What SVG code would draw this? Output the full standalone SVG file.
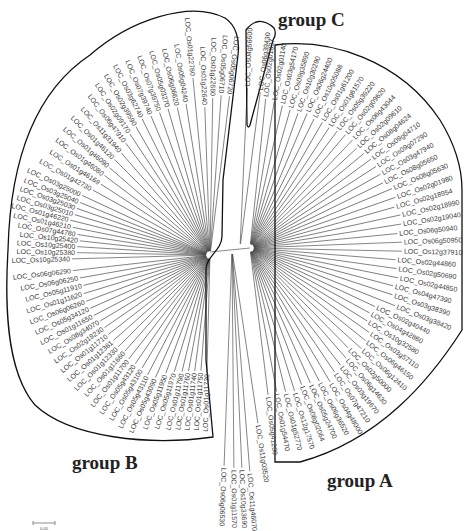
<svg xmlns="http://www.w3.org/2000/svg" width="464" height="531" viewBox="0 0 464 531">
<style>
.t{font-family:"Liberation Sans",Arial,sans-serif;font-size:7px;fill:#3a3a3a}
.e{text-anchor:end}
.c line{stroke:#4a4a4a;stroke-width:0.65}
.o{fill:none;stroke:#111;stroke-width:1.3}
.g{font-family:"Liberation Serif","Times New Roman",serif;font-weight:bold;font-size:19px;fill:#222}
</style>
<rect width="464" height="531" fill="#fff"/>
<g id="connectors" class="c">
<g id="cB">
<line transform="rotate(-88.5 210 255)" x1="206" y1="255" x2="93" y2="255"/>
<line transform="rotate(-85.5 210 255)" x1="206" y1="255" x2="94" y2="255"/>
<line transform="rotate(-82.5 210 255)" x1="206" y1="255" x2="93" y2="255"/>
<line transform="rotate(-79.5 210 255)" x1="206" y1="255" x2="92" y2="255"/>
<line transform="rotate(-76.5 210 255)" x1="206" y1="255" x2="90" y2="255"/>
<line transform="rotate(-73 210 255)" x1="206" y1="255" x2="88" y2="255"/>
<line transform="rotate(-69.5 210 255)" x1="206" y1="255" x2="84" y2="255"/>
<line transform="rotate(-66 210 255)" x1="206" y1="255" x2="76" y2="255"/>
<line transform="rotate(-62.5 210 255)" x1="206" y1="255" x2="75" y2="255"/>
<line transform="rotate(-59 210 255)" x1="206" y1="255" x2="78" y2="255"/>
<line transform="rotate(-55.5 210 255)" x1="206" y1="255" x2="78" y2="255"/>
<line transform="rotate(-52 210 255)" x1="206" y1="255" x2="78" y2="255"/>
<line transform="rotate(-48.5 210 255)" x1="206" y1="255" x2="82" y2="255"/>
<line transform="rotate(-45 210 255)" x1="206" y1="255" x2="80" y2="255"/>
<line transform="rotate(-41.5 210 255)" x1="206" y1="255" x2="81" y2="255"/>
<line transform="rotate(-38 210 255)" x1="206" y1="255" x2="81" y2="255"/>
<line transform="rotate(-34.5 210 255)" x1="206" y1="255" x2="82" y2="255"/>
<line transform="rotate(-31 210 255)" x1="206" y1="255" x2="82" y2="255"/>
<line transform="rotate(-27.5 210 255)" x1="206" y1="255" x2="79" y2="255"/>
<line transform="rotate(-24 210 255)" x1="206" y1="255" x2="79" y2="255"/>
<line transform="rotate(-20.5 210 255)" x1="206" y1="255" x2="78" y2="255"/>
<line transform="rotate(-17 210 255)" x1="206" y1="255" x2="78" y2="255"/>
<line transform="rotate(-13.5 210 255)" x1="206" y1="255" x2="80" y2="255"/>
<line transform="rotate(-10 210 255)" x1="206" y1="255" x2="78" y2="255"/>
<line transform="rotate(-6.5 210 255)" x1="206" y1="255" x2="72" y2="255"/>
<line transform="rotate(-1.6 210 255)" x1="206" y1="255" x2="72" y2="255"/>
<line transform="rotate(1 210 255)" x1="206" y1="255" x2="77" y2="255"/>
<line transform="rotate(3.6 210 255)" x1="206" y1="255" x2="77" y2="255"/>
<line transform="rotate(6.2 210 255)" x1="206" y1="255" x2="79" y2="255"/>
<line transform="rotate(8.8 210 255)" x1="206" y1="255" x2="76" y2="255"/>
<line transform="rotate(11.4 210 255)" x1="206" y1="255" x2="70" y2="255"/>
<line transform="rotate(14 210 255)" x1="206" y1="255" x2="66" y2="255"/>
<line transform="rotate(16.6 210 255)" x1="206" y1="255" x2="69" y2="255"/>
<line transform="rotate(19.3 210 255)" x1="206" y1="255" x2="69" y2="255"/>
<line transform="rotate(22 210 255)" x1="206" y1="255" x2="70" y2="255"/>
<line transform="rotate(25 210 255)" x1="206" y1="255" x2="69" y2="255"/>
<line transform="rotate(29 210 255)" x1="206" y1="255" x2="76" y2="255"/>
<line transform="rotate(33 210 255)" x1="206" y1="255" x2="80" y2="255"/>
<line transform="rotate(37 210 255)" x1="206" y1="255" x2="78" y2="255"/>
<line transform="rotate(41 210 255)" x1="206" y1="255" x2="77" y2="255"/>
<line transform="rotate(45 210 255)" x1="206" y1="255" x2="75" y2="255"/>
<line transform="rotate(49 210 255)" x1="206" y1="255" x2="75" y2="255"/>
<line transform="rotate(53 210 255)" x1="206" y1="255" x2="70" y2="255"/>
<line transform="rotate(56.5 210 255)" x1="206" y1="255" x2="65" y2="255"/>
<line transform="rotate(60 210 255)" x1="206" y1="255" x2="62" y2="255"/>
<line transform="rotate(63.5 210 255)" x1="206" y1="255" x2="58" y2="255"/>
<line transform="rotate(67 210 255)" x1="206" y1="255" x2="59" y2="255"/>
<line transform="rotate(70.5 210 255)" x1="206" y1="255" x2="59" y2="255"/>
<line transform="rotate(74 210 255)" x1="206" y1="255" x2="58" y2="255"/>
<line transform="rotate(77.5 210 255)" x1="206" y1="255" x2="59" y2="255"/>
<line transform="rotate(81 210 255)" x1="206" y1="255" x2="57" y2="255"/>
<line transform="rotate(84.5 210 255)" x1="206" y1="255" x2="32" y2="255"/>
<line transform="rotate(88 210 255)" x1="206" y1="255" x2="62" y2="255"/>
<line transform="rotate(91 210 255)" x1="206" y1="255" x2="53" y2="255"/>
<line transform="rotate(94 210 255)" x1="206" y1="255" x2="50" y2="255"/>
<line transform="rotate(97 210 255)" x1="206" y1="255" x2="50" y2="255"/>
</g>
<g id="cA">
<line transform="rotate(-84 250 248)" x1="254" y1="248" x2="400" y2="248"/>
<line transform="rotate(-80.6 250 248)" x1="254" y1="248" x2="398" y2="248"/>
<line transform="rotate(-77.2 250 248)" x1="254" y1="248" x2="396" y2="248"/>
<line transform="rotate(-73.8 250 248)" x1="254" y1="248" x2="394" y2="248"/>
<line transform="rotate(-70.4 250 248)" x1="254" y1="248" x2="393" y2="248"/>
<line transform="rotate(-67 250 248)" x1="254" y1="248" x2="396" y2="248"/>
<line transform="rotate(-63.6 250 248)" x1="254" y1="248" x2="394" y2="248"/>
<line transform="rotate(-60.1 250 248)" x1="254" y1="248" x2="395" y2="248"/>
<line transform="rotate(-56.7 250 248)" x1="254" y1="248" x2="394" y2="248"/>
<line transform="rotate(-53.3 250 248)" x1="254" y1="248" x2="396" y2="248"/>
<line transform="rotate(-49.9 250 248)" x1="254" y1="248" x2="398" y2="248"/>
<line transform="rotate(-46.5 250 248)" x1="254" y1="248" x2="399" y2="248"/>
<line transform="rotate(-43.1 250 248)" x1="254" y1="248" x2="396" y2="248"/>
<line transform="rotate(-39.7 250 248)" x1="254" y1="248" x2="398" y2="248"/>
<line transform="rotate(-36.3 250 248)" x1="254" y1="248" x2="400" y2="248"/>
<line transform="rotate(-32.9 250 248)" x1="254" y1="248" x2="400" y2="248"/>
<line transform="rotate(-29.5 250 248)" x1="254" y1="248" x2="400" y2="248"/>
<line transform="rotate(-26.1 250 248)" x1="254" y1="248" x2="398" y2="248"/>
<line transform="rotate(-22.7 250 248)" x1="254" y1="248" x2="404" y2="248"/>
<line transform="rotate(-19.2 250 248)" x1="254" y1="248" x2="404" y2="248"/>
<line transform="rotate(-15.8 250 248)" x1="254" y1="248" x2="400" y2="248"/>
<line transform="rotate(-12.4 250 248)" x1="254" y1="248" x2="404" y2="248"/>
<line transform="rotate(-9 250 248)" x1="254" y1="248" x2="403" y2="248"/>
<line transform="rotate(-5.6 250 248)" x1="254" y1="248" x2="398" y2="248"/>
<line transform="rotate(-2.2 250 248)" x1="254" y1="248" x2="402" y2="248"/>
<line transform="rotate(1.2 250 248)" x1="254" y1="248" x2="402" y2="248"/>
<line transform="rotate(4.6 250 248)" x1="254" y1="248" x2="396" y2="248"/>
<line transform="rotate(8 250 248)" x1="254" y1="248" x2="398" y2="248"/>
<line transform="rotate(11.4 250 248)" x1="254" y1="248" x2="401" y2="248"/>
<line transform="rotate(14.8 250 248)" x1="254" y1="248" x2="398" y2="248"/>
<line transform="rotate(18.2 250 248)" x1="254" y1="248" x2="400" y2="248"/>
<line transform="rotate(21.7 250 248)" x1="254" y1="248" x2="406" y2="248"/>
<line transform="rotate(25.1 250 248)" x1="254" y1="248" x2="388" y2="248"/>
<line transform="rotate(28.5 250 248)" x1="254" y1="248" x2="386" y2="248"/>
<line transform="rotate(31.9 250 248)" x1="254" y1="248" x2="388" y2="248"/>
<line transform="rotate(35.3 250 248)" x1="254" y1="248" x2="396" y2="248"/>
<line transform="rotate(38.7 250 248)" x1="254" y1="248" x2="398" y2="248"/>
<line transform="rotate(42.1 250 248)" x1="254" y1="248" x2="400" y2="248"/>
<line transform="rotate(45.5 250 248)" x1="254" y1="248" x2="390" y2="248"/>
<line transform="rotate(48.9 250 248)" x1="254" y1="248" x2="396" y2="248"/>
<line transform="rotate(52.3 250 248)" x1="254" y1="248" x2="398" y2="248"/>
<line transform="rotate(55.7 250 248)" x1="254" y1="248" x2="400" y2="248"/>
<line transform="rotate(59.1 250 248)" x1="254" y1="248" x2="406" y2="248"/>
<line transform="rotate(62.5 250 248)" x1="254" y1="248" x2="400" y2="248"/>
<line transform="rotate(65.9 250 248)" x1="254" y1="248" x2="398" y2="248"/>
<line transform="rotate(69.3 250 248)" x1="254" y1="248" x2="396" y2="248"/>
<line transform="rotate(72.7 250 248)" x1="254" y1="248" x2="400" y2="248"/>
<line transform="rotate(76.1 250 248)" x1="254" y1="248" x2="398" y2="248"/>
<line transform="rotate(79.5 250 248)" x1="254" y1="248" x2="396" y2="248"/>
<line transform="rotate(83 250 248)" x1="254" y1="248" x2="398" y2="248"/>
</g>
<g id="cC">
<line transform="rotate(-87.4 240 248)" x1="244" y1="248" x2="400" y2="248"/>
<line transform="rotate(-82.6 240 248)" x1="244" y1="248" x2="397" y2="248"/>
</g>
<g id="cO">
<line transform="rotate(81.5 232 250)" x1="236" y1="250" x2="407" y2="250"/>
<line transform="rotate(85.4 232 250)" x1="236" y1="250" x2="454" y2="250"/>
<line transform="rotate(87.4 232 250)" x1="236" y1="250" x2="450" y2="250"/>
<line transform="rotate(89.5 232 250)" x1="236" y1="250" x2="450" y2="250"/>
<line transform="rotate(92.1 232 250)" x1="236" y1="250" x2="448" y2="250"/>
</g>
<line x1="210" y1="252" x2="250" y2="248" stroke="#333" stroke-width="0.9"/>
</g>
<g id="groupB">
<path class="o" d="M213 437 C150 446 70 438 35 405 C5 370 5 300 8 250 C10 170 30 95 90 55 C130 20 190 0 225 18 C236 25 240 40 238 55 L223 180 L222 236 C222 250 207 256 206 268 L206 360 Z"/>
<g id="nB1" transform="rotate(-88.5 210 255)"><text class="t e" x="91" y="257.4">LOC_Os01g11730</text></g>
<g id="nB2" transform="rotate(-85.5 210 255)"><text class="t e" x="92" y="257.4">LOC_Os01g11750</text></g>
<g id="nB3" transform="rotate(-82.5 210 255)"><text class="t e" x="91" y="257.4">LOC_Os01g11740</text></g>
<g id="nB4" transform="rotate(-79.5 210 255)"><text class="t e" x="90" y="257.4">LOC_Os01g11760</text></g>
<g id="nB5" transform="rotate(-76.5 210 255)"><text class="t e" x="88" y="257.4">LOC_Os01g11790</text></g>
<g id="nB6" transform="rotate(-73 210 255)"><text class="t e" x="86" y="257.4">LOC_Os05g11970</text></g>
<g id="nB7" transform="rotate(-69.5 210 255)"><text class="t e" x="82" y="257.4">LOC_Os05g11950</text></g>
<g id="nB8" transform="rotate(-66 210 255)"><text class="t e" x="74" y="257.4">LOC_Os05g43090</text></g>
<g id="nB9" transform="rotate(-62.5 210 255)"><text class="t e" x="73" y="257.4">LOC_Os05g43110</text></g>
<g id="nB10" transform="rotate(-59 210 255)"><text class="t e" x="76" y="257.4">LOC_Os05g43100</text></g>
<g id="nB11" transform="rotate(-55.5 210 255)"><text class="t e" x="76" y="257.4">LOC_Os05g43120</text></g>
<g id="nB12" transform="rotate(-52 210 255)"><text class="t e" x="76" y="257.4">LOC_Os01g11700</text></g>
<g id="nB13" transform="rotate(-48.5 210 255)"><text class="t e" x="80" y="257.4">LOC_Os01g11660</text></g>
<g id="nB14" transform="rotate(-45 210 255)"><text class="t e" x="78" y="257.4">LOC_Os01g12330</text></g>
<g id="nB15" transform="rotate(-41.5 210 255)"><text class="t e" x="79" y="257.4">LOC_Os01g12361</text></g>
<g id="nB16" transform="rotate(-38 210 255)"><text class="t e" x="79" y="257.4">LOC_Os01g11710</text></g>
<g id="nB17" transform="rotate(-34.5 210 255)"><text class="t e" x="80" y="257.4">LOC_Os02g19230</text></g>
<g id="nB18" transform="rotate(-31 210 255)"><text class="t e" x="80" y="257.4">LOC_Os08g34070</text></g>
<g id="nB19" transform="rotate(-27.5 210 255)"><text class="t e" x="77" y="257.4">LOC_Os01g11650</text></g>
<g id="nB20" transform="rotate(-24 210 255)"><text class="t e" x="77" y="257.4">LOC_Os05g34120</text></g>
<g id="nB21" transform="rotate(-20.5 210 255)"><text class="t e" x="76" y="257.4">LOC_Os06g06260</text></g>
<g id="nB22" transform="rotate(-17 210 255)"><text class="t e" x="76" y="257.4">LOC_Os01g11620</text></g>
<g id="nB23" transform="rotate(-13.5 210 255)"><text class="t e" x="78" y="257.4">LOC_Os05g11910</text></g>
<g id="nB24" transform="rotate(-10 210 255)"><text class="t e" x="76" y="257.4">LOC_Os06g06250</text></g>
<g id="nB25" transform="rotate(-6.5 210 255)"><text class="t e" x="70" y="257.4">LOC_Os06g06290</text></g>
<g id="nB26" transform="rotate(-1.6 210 255)"><text class="t e" x="70" y="257.4">LOC_Os10g25340</text></g>
<g id="nB27" transform="rotate(1 210 255)"><text class="t e" x="75" y="257.4">LOC_Os10g25380</text></g>
<g id="nB28" transform="rotate(3.6 210 255)"><text class="t e" x="75" y="257.4">LOC_Os10g25400</text></g>
<g id="nB29" transform="rotate(6.2 210 255)"><text class="t e" x="77" y="257.4">LOC_Os10g25420</text></g>
<g id="nB30" transform="rotate(8.8 210 255)"><text class="t e" x="74" y="257.4">LOC_Os07g44780</text></g>
<g id="nB31" transform="rotate(11.4 210 255)"><text class="t e" x="68" y="257.4">LOC_Os01g46210</text></g>
<g id="nB32" transform="rotate(14 210 255)"><text class="t e" x="64" y="257.4">LOC_Os01g46220</text></g>
<g id="nB33" transform="rotate(16.6 210 255)"><text class="t e" x="67" y="257.4">LOC_Os03g25010</text></g>
<g id="nB34" transform="rotate(19.3 210 255)"><text class="t e" x="67" y="257.4">LOC_Os03g25030</text></g>
<g id="nB35" transform="rotate(22 210 255)"><text class="t e" x="68" y="257.4">LOC_Os03g25040</text></g>
<g id="nB36" transform="rotate(25 210 255)"><text class="t e" x="67" y="257.4">LOC_Os03g25000</text></g>
<g id="nB37" transform="rotate(29 210 255)"><text class="t e" x="74" y="257.4">LOC_Os01g42730</text></g>
<g id="nB38" transform="rotate(33 210 255)"><text class="t e" x="78" y="257.4">LOC_Os01g46169</text></g>
<g id="nB39" transform="rotate(37 210 255)"><text class="t e" x="76" y="257.4">LOC_Os01g46080</text></g>
<g id="nB40" transform="rotate(41 210 255)"><text class="t e" x="75" y="257.4">LOC_Os01g46090</text></g>
<g id="nB41" transform="rotate(45 210 255)"><text class="t e" x="73" y="257.4">LOC_Os01g46120</text></g>
<g id="nB42" transform="rotate(49 210 255)"><text class="t e" x="73" y="257.4">LOC_Os11g31940</text></g>
<g id="nB43" transform="rotate(53 210 255)"><text class="t e" x="68" y="257.4">LOC_Os06g47910</text></g>
<g id="nB44" transform="rotate(56.5 210 255)"><text class="t e" x="63" y="257.4">LOC_Os02g09170</text></g>
<g id="nB45" transform="rotate(60 210 255)"><text class="t e" x="60" y="257.4">LOC_Os02g39590</text></g>
<g id="nB46" transform="rotate(63.5 210 255)"><text class="t e" x="56" y="257.4">LOC_Os03g62740</text></g>
<g id="nB47" transform="rotate(67 210 255)"><text class="t e" x="57" y="257.4">LOC_Os07g39740</text></g>
<g id="nB48" transform="rotate(70.5 210 255)"><text class="t e" x="57" y="257.4">LOC_Os07g39750</text></g>
<g id="nB49" transform="rotate(74 210 255)"><text class="t e" x="56" y="257.4">LOC_Os05g03270</text></g>
<g id="nB50" transform="rotate(77.5 210 255)"><text class="t e" x="57" y="257.4">LOC_Os06g06620</text></g>
<g id="nB51" transform="rotate(81 210 255)"><text class="t e" x="55" y="257.4">LOC_Os05g04240</text></g>
<g id="nB52" transform="rotate(84.5 210 255)"><text class="t e" x="30" y="257.4">LOC_Os01g22780</text></g>
<g id="nB53" transform="rotate(88 210 255)"><text class="t e" x="60" y="257.4">LOC_Os01g22640</text></g>
<g id="nB54" transform="rotate(91 210 255)"><text class="t e" x="51" y="257.4">LOC_Os01g22660</text></g>
<g id="nB55" transform="rotate(94 210 255)"><text class="t e" x="48" y="257.4">LOC_Os05g06710</text></g>
<g id="nB56" transform="rotate(97 210 255)"><text class="t e" x="48" y="257.4">LOC_Os05g06720</text></g>
</g>
<g id="groupC">
<path class="o" d="M247 125 L246 30 Q258 14 274 28 Q277 34 273 40 L250 125 Q248.5 129 247 125 Z"/>
<g id="nC1" transform="rotate(-87.4 240 248)"><text class="t" x="402" y="250.4">LOC_Os04g56600</text></g>
<g id="nC2" transform="rotate(-82.6 240 248)"><text class="t" x="399" y="250.4">LOC_Os06g39430</text></g>
</g>
<g id="groupA">
<path class="o" d="M275 45 C330 38 400 60 440 120 C456 146 462 170 462 190 L462 330 C430 380 380 440 300 462 L275 462 Z"/>
<g id="nA1" transform="rotate(-84 250 248)"><text class="t" x="402" y="250.4">LOC_Os02g01837</text></g>
<g id="nA2" transform="rotate(-80.6 250 248)"><text class="t" x="400" y="250.4">LOC_Os02g01140</text></g>
<g id="nA3" transform="rotate(-77.2 250 248)"><text class="t" x="398" y="250.4">LOC_Os03g54170</text></g>
<g id="nA4" transform="rotate(-73.8 250 248)"><text class="t" x="396" y="250.4">LOC_Os09g35890</text></g>
<g id="nA5" transform="rotate(-70.4 250 248)"><text class="t" x="395" y="250.4">LOC_Os10g30290</text></g>
<g id="nA6" transform="rotate(-67 250 248)"><text class="t" x="398" y="250.4">LOC_Os06g24400</text></g>
<g id="nA7" transform="rotate(-63.6 250 248)"><text class="t" x="396" y="250.4">LOC_Os10g05088</text></g>
<g id="nA8" transform="rotate(-60.1 250 248)"><text class="t" x="397" y="250.4">LOC_Os01g61200</text></g>
<g id="nA9" transform="rotate(-56.7 250 248)"><text class="t" x="396" y="250.4">LOC_Os01g61570</text></g>
<g id="nA10" transform="rotate(-53.3 250 248)"><text class="t" x="398" y="250.4">LOC_Os05g39220</text></g>
<g id="nA11" transform="rotate(-49.9 250 248)"><text class="t" x="400" y="250.4">LOC_Os02g09620</text></g>
<g id="nA12" transform="rotate(-46.5 250 248)"><text class="t" x="401" y="250.4">LOC_Os06g43044</text></g>
<g id="nA13" transform="rotate(-43.1 250 248)"><text class="t" x="398" y="250.4">LOC_Os02g09610</text></g>
<g id="nA14" transform="rotate(-39.7 250 248)"><text class="t" x="400" y="250.4">LOC_Os08g04624</text></g>
<g id="nA15" transform="rotate(-36.3 250 248)"><text class="t" x="402" y="250.4">LOC_Os09g04710</text></g>
<g id="nA16" transform="rotate(-32.9 250 248)"><text class="t" x="402" y="250.4">LOC_Os09g07290</text></g>
<g id="nA17" transform="rotate(-29.5 250 248)"><text class="t" x="402" y="250.4">LOC_Os03g47940</text></g>
<g id="nA18" transform="rotate(-26.1 250 248)"><text class="t" x="400" y="250.4">LOC_Os08g05650</text></g>
<g id="nA19" transform="rotate(-22.7 250 248)"><text class="t" x="406" y="250.4">LOC_Os08g05630</text></g>
<g id="nA20" transform="rotate(-19.2 250 248)"><text class="t" x="406" y="250.4">LOC_Os02g01980</text></g>
<g id="nA21" transform="rotate(-15.8 250 248)"><text class="t" x="402" y="250.4">LOC_Os02g18954</text></g>
<g id="nA22" transform="rotate(-12.4 250 248)"><text class="t" x="406" y="250.4">LOC_Os02g18990</text></g>
<g id="nA23" transform="rotate(-9 250 248)"><text class="t" x="405" y="250.4">LOC_Os02g19040</text></g>
<g id="nA24" transform="rotate(-5.6 250 248)"><text class="t" x="400" y="250.4">LOC_Os06g50940</text></g>
<g id="nA25" transform="rotate(-2.2 250 248)"><text class="t" x="404" y="250.4">LOC_Os06g50950</text></g>
<g id="nA26" transform="rotate(1.2 250 248)"><text class="t" x="404" y="250.4">LOC_Os12g37910</text></g>
<g id="nA27" transform="rotate(4.6 250 248)"><text class="t" x="398" y="250.4">LOC_Os02g44860</text></g>
<g id="nA28" transform="rotate(8 250 248)"><text class="t" x="400" y="250.4">LOC_Os02g50690</text></g>
<g id="nA29" transform="rotate(11.4 250 248)"><text class="t" x="403" y="250.4">LOC_Os02g44850</text></g>
<g id="nA30" transform="rotate(14.8 250 248)"><text class="t" x="400" y="250.4">LOC_Os04g47390</text></g>
<g id="nA31" transform="rotate(18.2 250 248)"><text class="t" x="402" y="250.4">LOC_Os03g38390</text></g>
<g id="nA32" transform="rotate(21.7 250 248)"><text class="t" x="408" y="250.4">LOC_Os03g38420</text></g>
<g id="nA33" transform="rotate(25.1 250 248)"><text class="t" x="390" y="250.4">LOC_Os02g40440</text></g>
<g id="nA34" transform="rotate(28.5 250 248)"><text class="t" x="388" y="250.4">LOC_Os04g42860</text></g>
<g id="nA35" transform="rotate(31.9 250 248)"><text class="t" x="390" y="250.4">LOC_Os10g32580</text></g>
<g id="nA36" transform="rotate(35.3 250 248)"><text class="t" x="398" y="250.4">LOC_Os03g57110</text></g>
<g id="nA37" transform="rotate(38.7 250 248)"><text class="t" x="400" y="250.4">LOC_Os06g46150</text></g>
<g id="nA38" transform="rotate(42.1 250 248)"><text class="t" x="402" y="250.4">LOC_Os06g12410</text></g>
<g id="nA39" transform="rotate(45.5 250 248)"><text class="t" x="392" y="250.4">LOC_Os02g50000</text></g>
<g id="nA40" transform="rotate(48.9 250 248)"><text class="t" x="398" y="250.4">LOC_Os06g14630</text></g>
<g id="nA41" transform="rotate(52.3 250 248)"><text class="t" x="400" y="250.4">LOC_Os03g19670</text></g>
<g id="nA42" transform="rotate(55.7 250 248)"><text class="t" x="402" y="250.4">LOC_Os07g47210</text></g>
<g id="nA43" transform="rotate(59.1 250 248)"><text class="t" x="408" y="250.4">LOC_Os04g48000</text></g>
<g id="nA44" transform="rotate(62.5 250 248)"><text class="t" x="402" y="250.4">LOC_Os06g36520</text></g>
<g id="nA45" transform="rotate(65.9 250 248)"><text class="t" x="400" y="250.4">LOC_Os05g24700</text></g>
<g id="nA46" transform="rotate(69.3 250 248)"><text class="t" x="398" y="250.4">LOC_Os08g02064</text></g>
<g id="nA47" transform="rotate(72.7 250 248)"><text class="t" x="402" y="250.4">LOC_Os12g17570</text></g>
<g id="nA48" transform="rotate(76.1 250 248)"><text class="t" x="400" y="250.4">LOC_Os01g52770</text></g>
<g id="nA49" transform="rotate(79.5 250 248)"><text class="t" x="398" y="250.4">LOC_Os01g54470</text></g>
<g id="nA50" transform="rotate(83 250 248)"><text class="t" x="400" y="250.4">LOC_Os05g41200</text></g>
</g>
<g id="outliers">
<g id="nO1" transform="rotate(81.5 232 250)"><text class="t" x="409" y="252.4">LOC_Os11g03520</text></g>
<g id="nO2" transform="rotate(85.4 232 250)"><text class="t" x="456" y="252.4">LOC_Os11g46070</text></g>
<g id="nO3" transform="rotate(87.4 232 250)"><text class="t" x="452" y="252.4">LOC_Os10g33690</text></g>
<g id="nO4" transform="rotate(89.5 232 250)"><text class="t" x="452" y="252.4">LOC_Os01g11570</text></g>
<g id="nO5" transform="rotate(92.1 232 250)"><text class="t" x="450" y="252.4">LOC_Os06g06530</text></g>
</g>
<g id="labels">
<text class="g" x="278" y="26">group C</text>
<text class="g" x="72" y="469">group B</text>
<text class="g" x="327" y="487">group A</text>
</g>
<g id="scale" stroke="#444" stroke-width="0.6">
<line x1="33" y1="523" x2="55" y2="523"/>
<line x1="33" y1="521" x2="33" y2="525"/>
<line x1="55" y1="521" x2="55" y2="525"/>
<text x="44" y="530" font-family="Liberation Sans,Arial,sans-serif" font-size="4" text-anchor="middle" fill="#444" stroke="none">0.05</text>
</g>
</svg>
